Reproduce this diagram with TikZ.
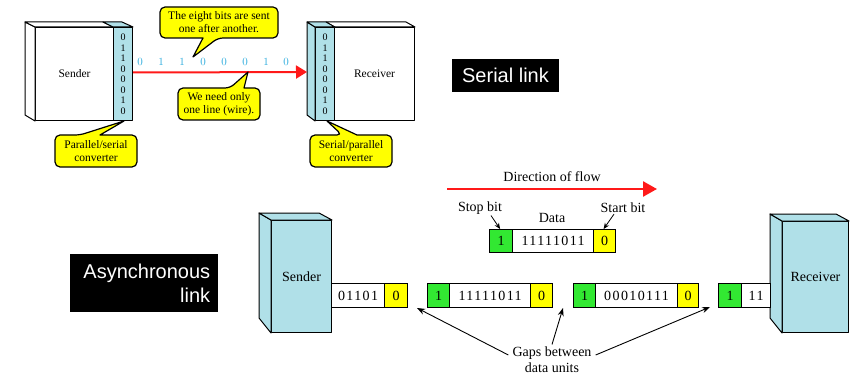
\documentclass[tikz,border=0pt]{standalone}
\usepackage{fontspec}
\setmainfont{Liberation Serif}
\newfontfamily\arialf{Liberation Sans}
\newfontfamily\bitfont[LetterSpace=10]{Liberation Serif}
\usetikzlibrary{arrows.meta,calc}
\definecolor{boxblue}{RGB}{176,224,232}
\definecolor{cyanbit}{RGB}{40,170,220}
\definecolor{cyellow}{RGB}{255,255,0}
\definecolor{cgreen}{RGB}{50,232,50}
\definecolor{flowred}{RGB}{255,25,25}
\begin{document}
\begin{tikzpicture}[x=1pt,y=-1pt,
  face/.style={draw=black, line width=1pt, line join=round},
  toptxt/.style={font=\fontsize{11.5}{13}\selectfont, align=center, inner sep=0pt},
  bottxt/.style={font=\fontsize{14}{16}\selectfont, align=center, inner sep=0pt},
  cbox/.style={draw=black, line width=1.2pt, fill=cyellow, line join=round},
  cell/.style={draw=black, line width=1.2pt, inner sep=0pt, anchor=north west,
               minimum height=24pt, font={\bitfont\fontsize{14}{16}\selectfont}},
  bitcol/.style={font=\fontsize{10}{10.5}\selectfont, align=center, inner sep=0pt},
  darkbox/.style={fill=black, text=white, inner sep=0pt, font={\arialf\fontsize{20}{24}\selectfont}},
  flowarrow/.style={draw=flowred, line width=2pt, -{Triangle[length=11pt,width=13pt]}},
  ptr/.style={draw=black, line width=0.9pt, -{Stealth[length=8pt,width=6pt]}}
]
\useasboundingbox (0,0) rectangle (859,377);

% ================= SERIAL LINK =================
% Sender (top)
\node[face, fill=white, minimum width=78pt, minimum height=93pt, anchor=north west,
      toptxt] (snd) at (35,27) {Sender};
\draw[face, fill=white] (snd.north west) -- ++(-10,-5) -- ++(0,93) -- (snd.south west) -- cycle;
\draw[face, fill=white] (snd.north west) -- ++(-10,-5) -- ++(78,0) -- (snd.north east) -- cycle;
\node[face, fill=boxblue, minimum width=19pt, minimum height=93pt, anchor=north west,
      bitcol] (sbar) at (113,27) {0\\1\\1\\0\\0\\0\\1\\0};
\draw[face, fill=boxblue] (sbar.north west) -- ++(-10,-5) -- ++(19,0) -- (sbar.north east) -- cycle;

% Receiver (top)
\node[face, fill=white, minimum width=80pt, minimum height=93pt, anchor=north west,
      toptxt] (rcv) at (334,27) {Receiver};
\draw[face, fill=white] (rcv.north west) -- ++(-8,-5) -- ++(80,0) -- (rcv.north east) -- cycle;
\node[face, fill=boxblue, minimum width=19pt, minimum height=93pt, anchor=north west,
      bitcol] (rbar) at (315,27) {0\\1\\1\\0\\0\\0\\1\\0};
\draw[face, fill=boxblue] (rbar.north west) -- ++(-8,-5) -- ++(0,93) -- (rbar.south west) -- cycle;
\draw[face, fill=boxblue] (rbar.north west) -- ++(-8,-5) -- ++(19,0) -- (rbar.north east) -- cycle;
\coordinate (rin) at (307,72);

% serial line
\draw[flowarrow] ([yshift=1.5pt]sbar.east) -- (rin);
\foreach \x [count=\i] in {140,161,182,203,224,245,266,286}{
  \pgfmathsetmacro\b{{0,1,1,0,0,0,1,0}[\i-1]}
  \node[font=\fontsize{10.5}{12}\selectfont, text=cyanbit, inner sep=0pt] (bit\i) at (\x,62) {\pgfmathprintnumber{\b}};
}

% callouts
\draw[cbox] (160,22) [rounded corners=5pt] |- (278,7) |- (218,38) [sharp corners] -- (193,57) -- (203,38)
  [rounded corners=5pt] -| (160,22) [sharp corners] -- cycle;
\node[toptxt] (c1) at (219,22.5) {The eight bits are sent\\one after another.};

\draw[cbox] (178,104) [rounded corners=5pt] |- (230,88) [sharp corners] -- (248,72) -- (244,88)
  [rounded corners=5pt] -| (260,120) -| (178,104) [sharp corners] -- cycle;
\node[toptxt] (c2) at (219,104) {We need only\\one line (wire).};

\draw[cbox] (55,151) [rounded corners=5pt] |- (80,135) [sharp corners] -- ($(sbar.south)+(1,0)$) -- (100,135)
  [rounded corners=5pt] -| (137,167) -| (55,151) [sharp corners] -- cycle;
\node[toptxt] (c3) at (96,151) {Parallel/serial\\converter};

\draw[cbox] (310,151) [rounded corners=5pt] |- (342,135) [sharp corners] -- ($(rbar.south)+(2,0)$) -- (357,135)
  [rounded corners=5pt] -| (392,167) -| (310,151) [sharp corners] -- cycle;
\node[toptxt] (c4) at (351,151) {Serial/parallel\\converter};

\node[darkbox, minimum width=107pt, minimum height=33pt] (serial) at (505.5,75.5) {Serial link};

% ================= ASYNCHRONOUS LINK =================
\node[darkbox, anchor=north west, text width=132pt, align=right, inner xsep=8pt,
      minimum height=58pt] (async) at (70,254) {Asynchronous\\link};

% direction of flow
\node[bottxt] (dir) at (552,177) {Direction of flow};
\coordinate (fs) at (447,189);
\coordinate (fe) at (657,189);
\draw[draw=flowred, line width=2.5pt, -{Triangle[length=14pt,width=15pt]}] (fs) -- (fe);

% Sender (bottom)
\node[face, fill=boxblue, minimum width=60pt, minimum height=112pt, anchor=north west,
      bottxt] (snd2) at (271,220) {Sender};
\draw[face, fill=boxblue] (snd2.north west) -- ++(-12,-7) -- ++(0,105) -- (snd2.south west) -- cycle;
\draw[face, fill=boxblue] (snd2.north west) -- ++(-12,-7) -- ++(60,0) -- (snd2.north east) -- cycle;

% Receiver (bottom)
\node[face, fill=boxblue, minimum width=66pt, minimum height=111pt, anchor=north west,
      bottxt] (rcv2) at (782,221) {Receiver};
\draw[face, fill=boxblue] (rcv2.north west) -- ++(-12,-7) -- ++(0,104) -- (rcv2.south west) -- cycle;
\draw[face, fill=boxblue] (rcv2.north west) -- ++(-12,-7) -- ++(66,0) -- (rcv2.north east) -- cycle;

% sample frame
\node[cell, fill=cgreen, minimum width=23pt, minimum height=23pt] (t1) at (489,229) {1};
\node[cell, fill=white, minimum width=81pt, minimum height=23pt] (t2) at (512,229) {11111011};
\node[cell, fill=cyellow, minimum width=22pt, minimum height=23pt] (t3) at (593,229) {0};
\node[bottxt] (stop) at (480,208) {Stop bit};
\node[bottxt] (data) at (552,218) {Data};
\node[bottxt] (start) at (623,208) {Start bit};
\draw[draw=black, line width=0.8pt, -{Stealth[length=6pt,width=5pt]}] ($(stop.south)+(11,1)$) -- ($(t1.north)+(-1,0)$);
\draw[draw=black, line width=0.8pt, -{Stealth[length=6pt,width=5pt]}] ($(start.south)+(-9,1)$) -- ($(t3.north)+(-1,0)$);

% stream
\node[cell, fill=white, minimum width=53pt] (a1) at (331,283) {01101};
\node[cell, fill=cyellow, minimum width=23pt] (a2) at (384,283) {0};

\node[cell, fill=cgreen, minimum width=22pt] (b1) at (427,283) {1};
\node[cell, fill=white, minimum width=81pt] (b2) at (449,283) {11111011};
\node[cell, fill=cyellow, minimum width=22pt] (b3) at (530,283) {0};

\node[cell, fill=cgreen, minimum width=22pt] (d1) at (573,283) {1};
\node[cell, fill=white, minimum width=82pt] (d2) at (595,283) {00010111};
\node[cell, fill=cyellow, minimum width=21pt] (d3) at (677,283) {0};

\node[cell, fill=cgreen, minimum width=23pt] (e1) at (718,283) {1};
\node[cell, fill=white, minimum width=29pt] (e2) at (741,283) {11};

% gaps
\node[bottxt] (gap1) at (552,353) {Gaps between};
\node[bottxt] (gap2) at (552,368) {data units};
\coordinate (g1) at (417,308);
\coordinate (g2) at (563,308);
\coordinate (g3) at (710,307);
\draw[ptr] ([xshift=-4pt,yshift=-2pt]gap1.west) -- (g1);
\draw[ptr] ([yshift=2pt]gap1.north) -- (g2);
\draw[ptr] ([xshift=4pt,yshift=-2pt]gap1.east) -- (g3);
\end{tikzpicture}
\end{document}
